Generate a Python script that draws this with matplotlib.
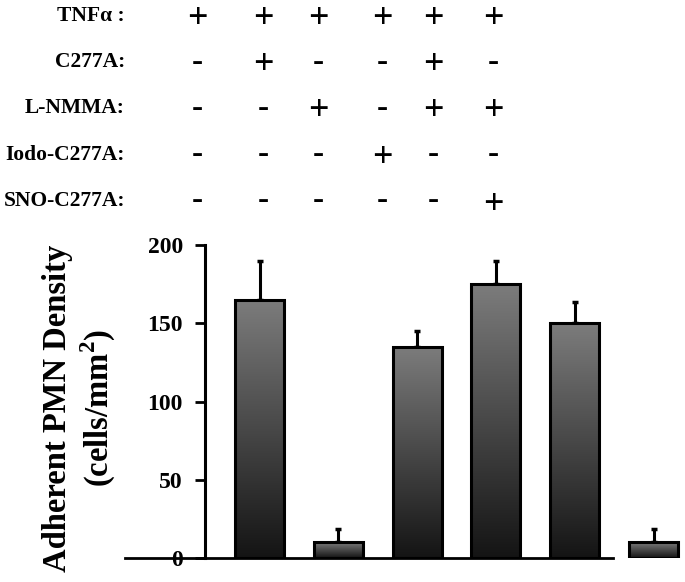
import numpy as np
import matplotlib
matplotlib.use("Agg")
import matplotlib.pyplot as plt
from matplotlib.colors import LinearSegmentedColormap

plt.rcParams['font.family'] = ['Liberation Serif', 'DejaVu Serif']
plt.rcParams['font.weight'] = 'bold'
plt.rcParams['mathtext.fontset'] = 'custom'
plt.rcParams['mathtext.rm'] = 'Liberation Serif:bold'
plt.rcParams['mathtext.bf'] = 'Liberation Serif:bold'

# ---- data ----
values = [165, 10, 135, 175, 150, 10]
errors = [25, 8.5, 10, 15, 13.5, 8.5]
yticks = [0, 50, 100, 150, 200]
row_labels = ["TNF\u03b1 :", "C277A:", "L-NMMA:", "Iodo-C277A:", "SNO-C277A:"]
row_signs = [
    ["+", "+", "+", "+", "+", "+"],
    ["-", "+", "-", "-", "+", "-"],
    ["-", "-", "+", "-", "+", "+"],
    ["-", "-", "-", "+", "-", "-"],
    ["-", "-", "-", "-", "-", "+"],
]
ylabel_lines = "Adherent PMN Density\n(cells/mm$^{\\mathbf{2}}$)"

W, H = 685, 582
fig = plt.figure(figsize=(W / 100, H / 100), dpi=100)

# axes geometry (pixels)
ax_left, ax_right, ax_top, ax_bot = 205, 685, 245, 558
ax = fig.add_axes([ax_left / W, 1 - ax_bot / H, (ax_right - ax_left) / W, (ax_bot - ax_top) / H])

spacing = 78.8
x0 = 259.5
x = np.arange(len(values))
xmin = (ax_left - x0) / spacing
xmax = (ax_right - x0) / spacing
bw = 0.62

cmap = LinearSegmentedColormap.from_list("g", ["#141414", "#7c7c7c"])
grad = np.linspace(0, 1, 256).reshape(-1, 1)

bars = ax.bar(x, values, width=bw, facecolor='none', edgecolor='black', linewidth=2.2, zorder=3)
for b in bars:
    bx, by = b.get_x(), b.get_y()
    im = ax.imshow(grad, cmap=cmap, origin='lower', aspect='auto',
                   extent=[bx, bx + b.get_width(), by, by + b.get_height()], zorder=2)
    im.set_clip_path(b)

ax.errorbar(x, values, yerr=[np.zeros(len(values)), errors], fmt='none', ecolor='black',
            elinewidth=2.2, capsize=2.5, capthick=2.5, zorder=1)

ax.set_xlim(xmin, xmax)
ax.set_ylim(0, 200)
ax.set_xticks([])
ax.set_yticks(yticks)
ax.set_yticklabels([str(t) for t in yticks], fontsize=17, fontweight='bold')
ax.tick_params(axis='y', direction='out', length=7, width=2, pad=9)
for s in ['top', 'right', 'bottom']:
    ax.spines[s].set_visible(False)
ax.spines['left'].set_linewidth(2.2)
ax.patch.set_alpha(0)

# x-axis baseline extending left of the y axis and ending before last bar
ax.axhline(0, xmin=(125 - ax_left) / (ax_right - ax_left), xmax=(613 - ax_left) / (ax_right - ax_left),
           color='black', linewidth=2.0, clip_on=False, zorder=4)

# y label
fig.text(80 / W, 1 - 408 / H, ylabel_lines, rotation=90, ha='center', va='center',
         fontsize=23.5, fontweight='bold', linespacing=1.2)

# treatment table
row_y = [16, 62, 108, 155, 201]
col_x = [197, 263, 318, 382, 433, 493]
for lbl, yy, signs in zip(row_labels, row_y, row_signs):
    fig.text(125 / W, 1 - yy / H, lbl, ha='right', va='center', fontsize=15.5, fontweight='bold')
    for cx, s in zip(col_x, signs):
        dy = 4 if s == '+' else 0
        fig.text(cx / W, 1 - (yy + dy) / H, s, ha='center', va='center',
                 fontsize=26 if s == '+' else 24, fontweight='bold')

fig.savefig("out.png", dpi=100)
